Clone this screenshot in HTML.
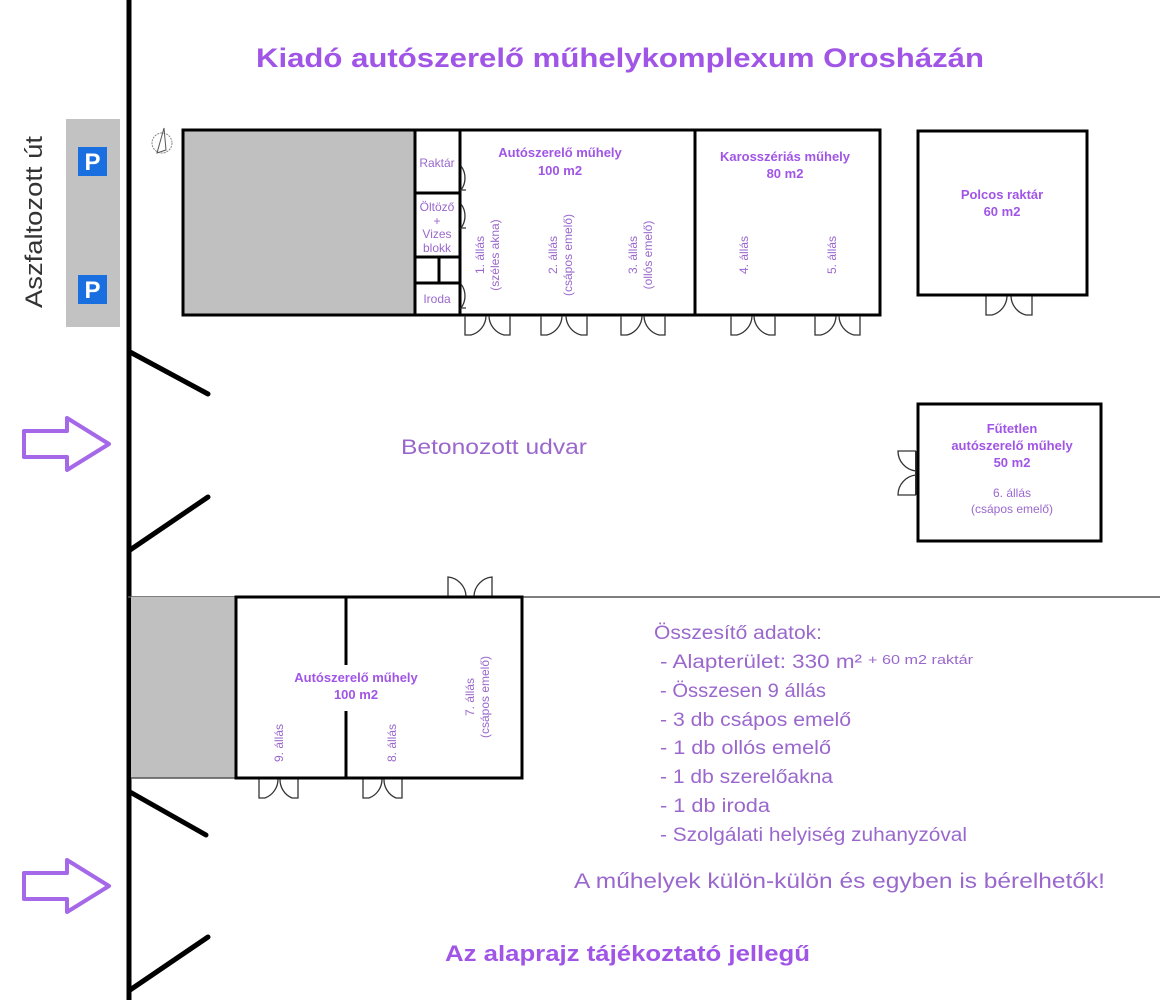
<!DOCTYPE html>
<html><head><meta charset="utf-8"><style>
html,body{margin:0;padding:0;background:#fff;}
svg{display:block;}
.t{font-family:"Liberation Sans",sans-serif;fill:#9a68cc;}
.b{font-family:"Liberation Sans",sans-serif;font-weight:bold;fill:#a055e6;}
</style></head><body>
<svg width="1160" height="1000" viewBox="0 0 1160 1000" xmlns="http://www.w3.org/2000/svg">
<rect width="1160" height="1000" fill="#fff"/>
<!-- title -->
<text class="b" x="620" y="67" font-size="27" text-anchor="middle" textLength="728" lengthAdjust="spacingAndGlyphs">Kiadó autószerelő műhelykomplexum Orosházán</text>
<!-- road -->
<text class="t" style="fill:#333" x="0" y="0" font-size="24" transform="translate(42,222) rotate(-90)" text-anchor="middle" textLength="172" lengthAdjust="spacingAndGlyphs">Aszfaltozott út</text>
<rect x="66" y="119" width="54" height="208" fill="#c2c2c2"/>
<rect x="78" y="147" width="29" height="29" fill="#1a6fe0"/>
<text x="92.5" y="170" font-family="Liberation Sans" font-weight="bold" font-size="24" fill="#fff" text-anchor="middle">P</text>
<rect x="78" y="275" width="29" height="29" fill="#1a6fe0"/>
<text x="92.5" y="298" font-family="Liberation Sans" font-weight="bold" font-size="24" fill="#fff" text-anchor="middle">P</text>
<!-- main fence line -->
<line x1="129" y1="0" x2="129" y2="1000" stroke="#000" stroke-width="5"/>
<g stroke="#000" stroke-width="5" stroke-linecap="round">
<line x1="130" y1="352" x2="208" y2="394"/>
<line x1="130" y1="550" x2="208" y2="497"/>
<line x1="130" y1="792" x2="206" y2="835"/>
<line x1="130" y1="990" x2="208" y2="937"/>
</g>
<!-- arrows -->
<g fill="none" stroke="#a468e8" stroke-width="4" stroke-linejoin="round">
<path d="M24 431 H67 V418 L109 444 L67 470 V457 H24 Z"/>
<path d="M24 873 H67 V860 L109 886 L67 912 V899 H24 Z"/>
</g>
<!-- compass -->
<circle cx="162" cy="143" r="10" fill="none" stroke="#888" stroke-width="1" stroke-dasharray="2 1"/>
<path d="M164 128 L157 153 L166 150 Z" fill="none" stroke="#555" stroke-width="1"/>
<!-- top building -->
<rect x="183" y="130" width="232" height="185" fill="#c0c0c0"/>
<g fill="none" stroke="#000" stroke-width="3">
<rect x="183" y="130" width="697" height="185"/>
<line x1="415" y1="130" x2="415" y2="315"/>
<line x1="460" y1="130" x2="460" y2="315"/>
<line x1="695" y1="130" x2="695" y2="315"/>
<line x1="415" y1="193" x2="460" y2="193"/>
<line x1="415" y1="257" x2="460" y2="257"/>
<line x1="415" y1="283" x2="460" y2="283"/>
<line x1="439" y1="257" x2="439" y2="283"/>
</g>
<text class="t" x="437" y="167" font-size="12" text-anchor="middle">Raktár</text>
<text class="t" x="437" y="211" font-size="12" text-anchor="middle">Öltöző</text>
<text class="t" x="437" y="225" font-size="12" text-anchor="middle">+</text>
<text class="t" x="437" y="238" font-size="12" text-anchor="middle">Vizes</text>
<text class="t" x="437" y="252" font-size="12" text-anchor="middle">blokk</text>
<text class="t" x="437" y="303" font-size="12" text-anchor="middle">Iroda</text>
<text class="b" x="560" y="157" font-size="13" text-anchor="middle">Autószerelő műhely</text>
<text class="b" x="560" y="175" font-size="13" text-anchor="middle">100 m2</text>
<text class="b" x="785" y="161" font-size="13" text-anchor="middle">Karosszériás műhely</text>
<text class="b" x="785" y="178" font-size="13" text-anchor="middle">80 m2</text>
<g class="t" font-size="12" text-anchor="middle">
<text transform="translate(484,255) rotate(-90)">1. állás</text>
<text transform="translate(499,255) rotate(-90)">(széles akna)</text>
<text transform="translate(557,255) rotate(-90)">2. állás</text>
<text transform="translate(572,255) rotate(-90)">(csápos emelő)</text>
<text transform="translate(637,255) rotate(-90)">3. állás</text>
<text transform="translate(652,255) rotate(-90)">(ollós emelő)</text>
<text transform="translate(748,255) rotate(-90)">4. állás</text>
<text transform="translate(836,255) rotate(-90)">5. állás</text>
</g>
<!-- doors -->
<g fill="none" stroke="#333" stroke-width="1.3">
<path d="M461 166 A20 20 0 0 1 461 190 H466"/>
<path d="M461 204 A20 20 0 0 1 461 228 H466"/>
<path d="M461 284 A20 20 0 0 1 461 308 H466"/>
<path d="M465 316 V335 H471 A20 20 0 0 0 486 316 M510 316 V335 H504 A20 20 0 0 1 489 316"/>
<path d="M541 316 V335 H547 A20 20 0 0 0 562 316 M587 316 V335 H581 A20 20 0 0 1 566 316"/>
<path d="M621 316 V335 H627 A20 20 0 0 0 642 316 M665 316 V335 H659 A20 20 0 0 1 644 316"/>
<path d="M731 316 V335 H737 A20 20 0 0 0 752 316 M775 316 V335 H769 A20 20 0 0 1 754 316"/>
<path d="M815 316 V335 H821 A20 20 0 0 0 836 316 M860 316 V335 H854 A20 20 0 0 1 839 316"/>
<path d="M986 296 V315 H992 A20 20 0 0 0 1007 296 M1032 296 V315 H1026 A20 20 0 0 1 1011 296"/>
<path d="M916 451 H898 A20 20 0 0 0 916 471 M916 495 H898 A20 20 0 0 1 916 475"/>
<line x1="916" y1="451" x2="916" y2="495" stroke-width="2"/>
<path d="M448 596 V577 A20 20 0 0 1 466 596 M492 596 V577 A20 20 0 0 0 474 596"/>
<path d="M259 779 V798 H265 A20 20 0 0 0 278 779 M298 779 V798 H292 A20 20 0 0 1 280 779"/>
<path d="M363 779 V798 H369 A20 20 0 0 0 382 779 M402 779 V798 H396 A20 20 0 0 1 384 779"/>
</g>
<!-- Polcos raktar -->
<rect x="918" y="131" width="169" height="164" fill="none" stroke="#000" stroke-width="3"/>
<text class="b" x="1002" y="199" font-size="13" text-anchor="middle">Polcos raktár</text>
<text class="b" x="1002" y="216" font-size="13" text-anchor="middle">60 m2</text>
<!-- Futetlen -->
<rect x="918" y="404" width="183" height="137" fill="none" stroke="#000" stroke-width="3"/>
<text class="b" x="1012" y="433" font-size="13" text-anchor="middle">Fűtetlen</text>
<text class="b" x="1012" y="450" font-size="13" text-anchor="middle">autószerelő műhely</text>
<text class="b" x="1012" y="467" font-size="13" text-anchor="middle">50 m2</text>
<text class="t" x="1012" y="497" font-size="12" text-anchor="middle">6. állás</text>
<text class="t" x="1012" y="513" font-size="12" text-anchor="middle">(csápos emelő)</text>
<!-- yard -->
<text class="t" x="494" y="454" font-size="21" text-anchor="middle" textLength="186" lengthAdjust="spacingAndGlyphs">Betonozott udvar</text>
<!-- bottom building -->
<line x1="128" y1="597" x2="1160" y2="597" stroke="#555" stroke-width="1.5"/>
<rect x="131" y="597" width="105" height="181" fill="#c0c0c0"/>
<line x1="131" y1="778" x2="236" y2="778" stroke="#555" stroke-width="1.5"/>
<rect x="236" y="597" width="286" height="181" fill="none" stroke="#000" stroke-width="3"/>
<line x1="346" y1="597" x2="346" y2="665" stroke="#000" stroke-width="3"/>
<line x1="346" y1="711" x2="346" y2="778" stroke="#000" stroke-width="3"/>
<text class="b" x="356" y="682" font-size="13" text-anchor="middle">Autószerelő műhely</text>
<text class="b" x="356" y="699" font-size="13" text-anchor="middle">100 m2</text>
<g class="t" font-size="12" text-anchor="middle">
<text transform="translate(283,743) rotate(-90)">9. állás</text>
<text transform="translate(396,743) rotate(-90)">8. állás</text>
<text transform="translate(474,697) rotate(-90)">7. állás</text>
<text transform="translate(489,697) rotate(-90)">(csápos emelő)</text>
</g>
<!-- summary -->
<g class="t" font-size="19">
<text x="654" y="639" textLength="168" lengthAdjust="spacingAndGlyphs">Összesítő adatok:</text>
<text x="660" y="668" textLength="202" lengthAdjust="spacingAndGlyphs">- Alapterület: 330 m²</text>
<text x="868" y="664" font-size="13" textLength="105" lengthAdjust="spacingAndGlyphs">+ 60 m2 raktár</text>
<text x="660" y="697" textLength="166" lengthAdjust="spacingAndGlyphs">- Összesen 9 állás</text>
<text x="660" y="726" textLength="191" lengthAdjust="spacingAndGlyphs">- 3 db csápos emelő</text>
<text x="660" y="754" textLength="171" lengthAdjust="spacingAndGlyphs">- 1 db ollós emelő</text>
<text x="660" y="783" textLength="173" lengthAdjust="spacingAndGlyphs">- 1 db szerelőakna</text>
<text x="660" y="812" textLength="110" lengthAdjust="spacingAndGlyphs">- 1 db iroda</text>
<text x="660" y="841" textLength="307" lengthAdjust="spacingAndGlyphs">- Szolgálati helyiség zuhanyzóval</text>
</g>
<text class="t" x="574" y="888" font-size="21" textLength="531" lengthAdjust="spacingAndGlyphs">A műhelyek külön-külön és egyben is bérelhetők!</text>
<text class="b" x="445" y="961" font-size="22" textLength="365" lengthAdjust="spacingAndGlyphs">Az alaprajz tájékoztató jellegű</text>
</svg>
</body></html>
